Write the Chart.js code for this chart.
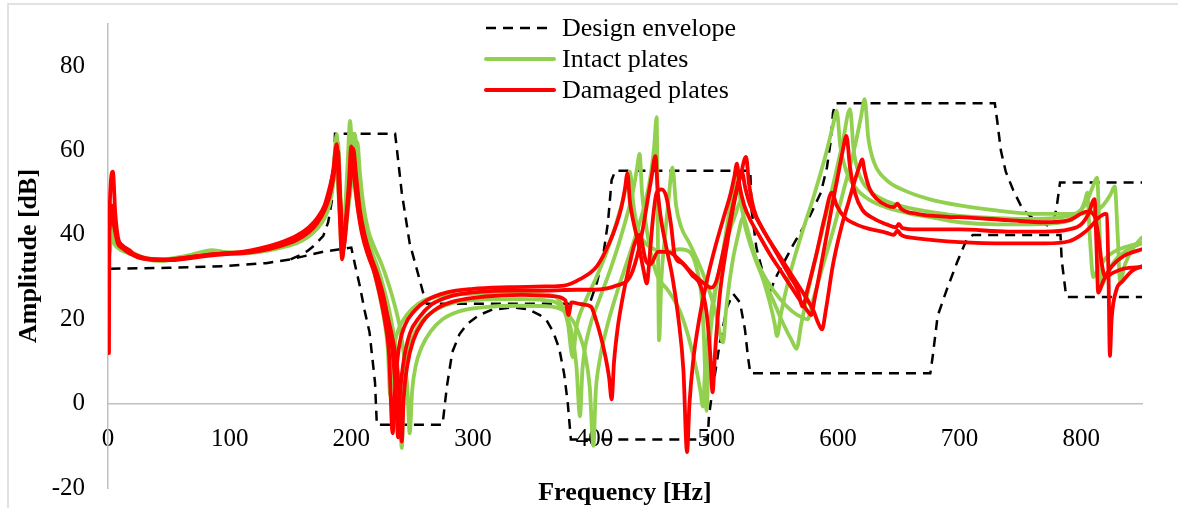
<!DOCTYPE html>
<html>
<head>
<meta charset="utf-8">
<script src="https://cdn.jsdelivr.net/npm/chart.js@4.4.1/dist/chart.umd.min.js"></script>
<style>
  html, body { margin: 0; padding: 0; background: #fff; }
</style>
</head>
<body>
<canvas id="fig" width="1178" height="508"></canvas>
<script>
// legend / axis texts
const legendLabels = ["Design envelope", "Intact plates", "Damaged plates"];
const xTitle = "Frequency [Hz]";
const yTitle = "Amplitude [dB]";

// design envelope, [Hz, dB]
const envLower = [[2,32],[50,32.2],[95,32.6],[130,33.3],[150,34.2],[177,36],[200,37],[203,33],[207,27.9],[211,22],[215,16.9],[219.5,5],[221,-5],[275,-5],[278.6,4.1],[283,12.2],[289,16.5],[295,18.8],[305,21],[316,22.3],[333,22.8],[345,22.4],[355,21],[361,19.5],[366,17],[371,13],[375,7],[378,0],[380.5,-8.5],[493,-8.5],[494,-3],[497,3.4],[503,14.5],[509,23],[514,26],[519.5,24],[523.6,17.6],[526,11.3],[528,7.2],[676,7.2],[678,11.3],[682,20.8],[689.6,27.1],[698,33.5],[706,39],[711,40],[783,40],[784,34],[787,27],[788,25.3],[850,25.3]];
const envUpper = [[150,34.2],[160,35.5],[164,36.2],[170,37.6],[177,39.8],[181,43],[184,48],[186,56],[186.6,64],[236,64],[237.5,60.3],[241.5,50],[248,38],[254,31.7],[260.6,24.6],[262,23.7],[396,23.7],[402,28.8],[407,35],[411,43],[414,53],[417,55.2],[528,55.2],[529,46],[533,37],[541,28],[544,26.5],[550,30.5],[563,37.5],[577,44.5],[586,50],[591,56],[594,62],[596,69],[598,71.2],[729,71.2],[731,67],[734,60],[738,55],[744,50.7],[752,46],[760,44],[772,42.3],[778,44],[780,46.9],[782.6,52.4],[850,52.4]];

// intact plates
const intact1 = [[1,37],[3,43],[5,40],[8,38],[12,37],[20,35.5],[30,34.3],[45,33.8],[60,34.6],[75,35.8],[85,36.4],[95,36],[110,35.8],[125,36.3],[140,37.3],[155,38.8],[165,40.5],[172,42.5],[178,45.5],[182,49],[185,54],[188,63.9],[190,50],[192.5,35],[195,46],[197,57],[199,67],[201,57],[204,49],[208,42],[213,36],[218,32],[223,26],[227,20],[230,13],[232,2],[234,11],[237,16],[242,19.5],[250,22.5],[260,24.5],[275,25.6],[300,26],[340,26.2],[362,25.8],[372,24],[378,19],[382,11],[385,18],[392,24],[400,29],[410,36],[418,43],[424,49],[429,55],[432,47],[436,41],[442,38],[450,36.5],[460,36],[470,36.6],[478,36],[484,32],[488,25],[490,15],[492,-1.7],[494,12],[498,24],[505,35],[511,46],[515,53],[517,56.3],[520,48],[525,42],[531,36],[538,30],[544,24],[548,19],[550,16],[553,21],[560,30],[570,40],[580,49],[590,59],[596,66],[599,69.4],[602,61],[607,55],[615,51],[625,48.5],[640,46.5],[660,45],[680,44],[700,43],[730,42.5],[760,42.5],[785,43],[798,45],[803,48],[805,50],[807,40],[810,30],[814,32],[822,35],[835,37],[850,38.2]];
const intact2 = [[1,36],[3,40],[6,38],[10,37],[20,35.8],[30,34.6],[45,34.2],[60,34.8],[75,35.6],[85,36],[95,35.8],[110,35.8],[125,36.2],[140,37],[155,38.3],[165,40],[172,42],[178,45],[182,48.5],[186,54],[189,62],[191,50],[193.5,37],[196,45],[199,53],[201,59],[203,64],[205,56],[208,48],[212,41],[217,36],[222,32],[227,27],[232,21],[236,14],[239.5,3],[241.5,-10.5],[243,2],[246,11],[251,16],[258,19.5],[268,22],[285,24],[310,24.7],[340,24.8],[365,24.3],[375,22],[381,17],[385,9],[388,-3],[390,8],[395,17],[403,24],[412,31],[420,38],[427,45],[432,51],[435,56],[437,59.2],[439,50],[442,43],[446,36],[452,30],[460,27],[470,22],[477,16],[483,9],[487,3],[489,-0.7],[491,9],[496,22],[503,32],[510,40],[516,45],[520,48],[523,43],[530,36],[538,30],[546,25],[555,19],[562,15],[566,13],[570,19],[578,30],[588,42],[597,53],[604,62],[610,69.8],[613,60],[618,54],[626,50.5],[640,48],[660,46.3],[680,45.3],[700,44.5],[730,44],[760,43.8],[790,44.5],[803,47],[809,51],[813,53.6],[815,42],[817,28],[820,30],[828,34],[840,36.8],[850,38]];
const intact3 = [[1,35],[3,39],[6,37.5],[10,36.5],[20,35.3],[30,34.4],[45,34],[60,34.5],[75,35.4],[85,35.8],[95,35.6],[110,35.6],[125,36],[140,36.8],[155,38],[165,39.6],[172,41.5],[178,44],[182,47],[185,52],[187,60],[189,52],[191,43],[194,38],[197,45],[200,52],[203,58],[205,62],[207,55],[210,47],[214,41],[219,37],[225,33],[231,28],[236,23],[240,18],[243,12],[246,4],[248,-7],[250,3],[253,9],[258,13.5],[265,17],[275,20],[290,22],[310,22.9],[340,23.2],[365,23],[380,20.5],[388,16],[392,12],[396,4],[399,-10],[401,3],[404,10],[410,18],[418,26],[426,33],[434,40],[441,47],[446,54],[449,61],[451,67.9],[452,40],[453,15],[455,30],[458,40],[461,49],[464,56],[467,47],[471,42],[478,38],[486,33],[494,27],[500,21],[505.6,14.5],[508,22],[513,33],[518,40],[522,44],[526,40],[533,34],[542,29],[552,25],[562,22],[570,20.5],[575,20],[580,25],[588,33],[597,42],[606,52],[614,61],[619,68],[622,72.2],[625,63],[630,57],[640,53],[655,50.5],[675,48.5],[700,47],[730,45.8],[760,45],[790,45],[810,45.5],[818,47],[824,49.5],[827.6,51.5],[830,40],[832,29],[836,33],[843,37],[850,39.4]];

// damaged plates
const damaged1 = [[0.8,12],[1.2,44],[4,55],[6,45],[9,38.5],[14,37],[18,36.3],[22,35],[30,34.3],[45,34],[60,34.5],[75,35],[85,35.4],[95,35.6],[110,35.8],[125,36.5],[140,37.6],[155,39.3],[165,41.2],[172,43.5],[178,46.5],[182,50],[185,55],[188,61.5],[190,48],[192.5,34.2],[195,42],[198,52],[200,61],[202,55],[205,47],[209,40],[214,35],[219,31],[224,25],[228,19],[231,12],[234,-7],[236,4],[239,13],[244,18.5],[252,22],[262,24.5],[278,26.3],[300,27.2],[330,27.6],[360,27.8],[375,28],[388,29.5],[402,32.6],[412,38],[418,42.5],[422,46.5],[425,51],[427,54.6],[429,48],[432,43],[436,38],[440,32],[443,28.5],[445,34],[448,44],[451,50],[455,50.8],[459,49],[463,42],[466,35],[472,33.3],[480,30.5],[487,28],[492,21.6],[495,12],[497,2.7],[499,12],[503,26],[509,38],[515,48],[520,54],[524.5,58.5],[527,52],[531,46],[537,42],[545,38],[553,34],[561,30],[567,27],[571,23],[575,27],[582,35],[589,44],[595,50],[599,47],[606,44],[615,42.5],[625,41.5],[640,40.5],[646,40],[649,41],[652,40],[665,39.2],[700,38.3],[740,38],[770,38],[790,38.5],[800,40],[808,42],[814,44],[820,45],[821,44.9],[822.5,30],[823.6,11.3],[825,20],[829,27],[834,29],[842,31.5],[850,32.6]];
const damaged2 = [[1,43],[3,47],[5,44],[8,39],[12,37.5],[18,36],[25,35],[35,34.3],[50,34.2],[65,34.6],[80,35.2],[95,35.6],[110,36],[125,36.8],[140,38],[155,39.8],[165,41.8],[172,44],[178,47],[182,51],[186,56],[189,60],[191,48],[193,36],[196,43],[199,54],[201.5,60.5],[204,54],[207,46],[211,40],[216,35],[221,31],[226,26],[230,20],[234,12],[236.5,3],[238.5,-8],[240,2],[243,10],[248,16.5],[256,20.5],[266,23.5],[282,25.5],[305,26.5],[335,26.8],[360,26.8],[385,27],[400,27],[418,28],[429,30],[435,35],[440,42],[444,49],[447,54],[450,58.7],[452,50],[455,43],[459,37],[464,30],[469,20],[473,8],[476,-11.5],[478,0],[481,10],[486,20],[493,30],[500,38],[507,45],[512,50],[515,54],[517,56.9],[519,52],[523,47],[529,43],[536,39.5],[544,35.5],[553,31.5],[562,27.5],[570,24],[575,22],[578,21],[581,25],[587,34],[594,45],[600,54],[604,60],[607,63.5],[610,56],[614,50],[620,46],[630,43.8],[640,42.5],[648,41.8],[650,42.6],[653,41.6],[665,41.3],[700,41.3],[740,40.8],[770,40.8],[790,41.3],[800,42.5],[806,45],[811,48.5],[812.5,38],[814,26.3],[818,29],[825,32.5],[835,35],[850,36.6]];
const damaged3 = [[1,41],[3,45],[5,42],[8,38],[12,36.8],[18,35.6],[25,34.8],[35,34.2],[50,34],[65,34.4],[80,35],[95,35.4],[110,35.6],[125,36.2],[140,37.2],[155,38.8],[165,40.6],[172,42.8],[178,45.8],[182,49],[185,53],[188.5,59],[191,48],[193.5,37],[196,44],[199,52],[202,58],[204,52],[207,45],[211,39],[216,34],[221,30],[227,24],[232,18],[236,12],[239,4],[241.5,-9],[243,1],[246,9],[251,15],[259,19.5],[270,22.5],[285,24.3],[310,25.4],[340,25.8],[365,25.5],[376,24.5],[378.5,21],[381,24],[390,23.5],[397,23],[401,20],[405,16],[409,11],[412,6],[414,1],[416,10],[419,18],[423,25],[428,32],[433,38],[437,40],[442,34],[446,33],[452,36],[460,36],[470,34],[480,31],[490,28.5],[496,27.5],[500,29],[505,35],[511,43],[516,50],[521,55],[524,51],[528,47],[535,43],[543,39],[552,35],[562,30.5],[572,26],[580,22],[584,19],[587,17.6],[590,22],[596,33],[603,42],[609,48],[614,53],[618,56.5],[620,57.9],[622,55],[626,51],[632,48.5],[640,47],[646,46.6],[649,47.4],[652,46.2],[665,45],[690,44.3],[700,44.2],[740,43.5],[770,43],[790,43.5],[805,45.5],[811,44.5],[814,40],[817,33],[820,30],[826,31],[835,32],[850,32.4]];

const GREEN = '#92d050';
const RED = '#ff0000';
const FONT = "'Liberation Serif', 'Times New Roman', serif";

Chart.defaults.font.family = FONT;
Chart.defaults.color = '#000';

function pts(arr) { return arr.map(p => ({x: p[0], y: p[1]})); }

function curve(data, color, order) {
    return {
        data: pts(data),
        borderColor: color,
        borderWidth: 3.8,
        pointRadius: 0,
        fill: false,
        cubicInterpolationMode: 'monotone',
        borderJoinStyle: 'round',
        borderCapStyle: 'round',
        order: order
    };
}

function envelope(data) {
    return {
        data: pts(data),
        borderColor: '#000',
        borderWidth: 2.5,
        borderDash: [10, 7],
        pointRadius: 0,
        fill: false,
        tension: 0,
        order: 3
    };
}

/* fond, cadre, titre de l'axe x et légende */
const decor = {
    id: 'decor',
    beforeDraw(chart) {
        const c = chart.ctx;
        c.save();
        c.fillStyle = '#fff';
        c.fillRect(0, 0, chart.width, chart.height);
        c.strokeStyle = '#d9d9d9';
        c.lineWidth = 1.5;
        c.strokeRect(8, 4, chart.width + 20, chart.height + 20);
        c.restore();
    },
    afterDraw(chart) {
        const c = chart.ctx, a = chart.chartArea;
        c.save();
        c.fillStyle = '#000';
        c.font = 'bold 26px ' + FONT;
        c.textAlign = 'center';
        c.textBaseline = 'alphabetic';
        c.fillText(xTitle, (a.left + a.right) / 2, 500);

        const rows = [
            {color: '#000', width: 2.5, dash: [10, 7]},
            {color: GREEN, width: 4, dash: []},
            {color: RED, width: 4, dash: []}
        ];
        c.font = '26px ' + FONT;
        c.textAlign = 'left';
        rows.forEach((r, i) => {
            const base = 36 + i * 31;
            c.beginPath();
            c.setLineDash(r.dash);
            c.strokeStyle = r.color;
            c.lineWidth = r.width;
            c.lineCap = r.dash.length ? 'butt' : 'round';
            c.moveTo(486, base - 8);
            c.lineTo(554, base - 8);
            c.stroke();
            c.setLineDash([]);
            c.fillText(legendLabels[i], 562, base);
        });
        c.restore();
    }
};

const ctx = document.getElementById('fig');
const chart = new Chart(ctx, {
    type: 'line',
    data: {
        datasets: [
            curve(damaged1, RED, 1),
            curve(damaged2, RED, 1),
            curve(damaged3, RED, 1),
            curve(intact1, GREEN, 2),
            curve(intact2, GREEN, 2),
            curve(intact3, GREEN, 2),
            envelope(envLower),
            envelope(envUpper)
        ]
    },
    options: {
        responsive: false,
        animation: false,
        layout: { padding: { left: 8, top: 24, right: 36, bottom: 20 } },
        plugins: { legend: { display: false }, tooltip: { enabled: false } },
        scales: {
            x: {
                type: 'linear',
                min: 0,
                max: 850,
                position: { y: 0 },
                grid: { display: true, drawOnChartArea: false, drawTicks: true, tickLength: 18, color: 'rgba(0,0,0,0)' },
                border: { display: true, color: '#c0c0c0', width: 1.5 },
                ticks: { stepSize: 100, includeBounds: false, padding: 3, maxRotation: 0, color: '#000', font: { size: 25 } }
            },
            y: {
                min: -20,
                max: 90,
                grid: { display: true, drawOnChartArea: false, drawTicks: true, tickLength: 20, color: 'rgba(0,0,0,0)' },
                border: { display: true, color: '#c0c0c0', width: 1.5 },
                ticks: {
                    stepSize: 20,
                    includeBounds: false,
                    padding: 3,
                    color: '#000',
                    font: { size: 25 },
                    callback: v => (v > 80 ? '' : v)
                },
                title: { display: true, text: yTitle, color: '#000', font: { size: 26, weight: 'bold' }, padding: { top: 6, bottom: 0 } },
                afterFit: s => { s.width = 100; }
            }
        }
    },
    plugins: [decor]
});
</script>
</body>
</html>
